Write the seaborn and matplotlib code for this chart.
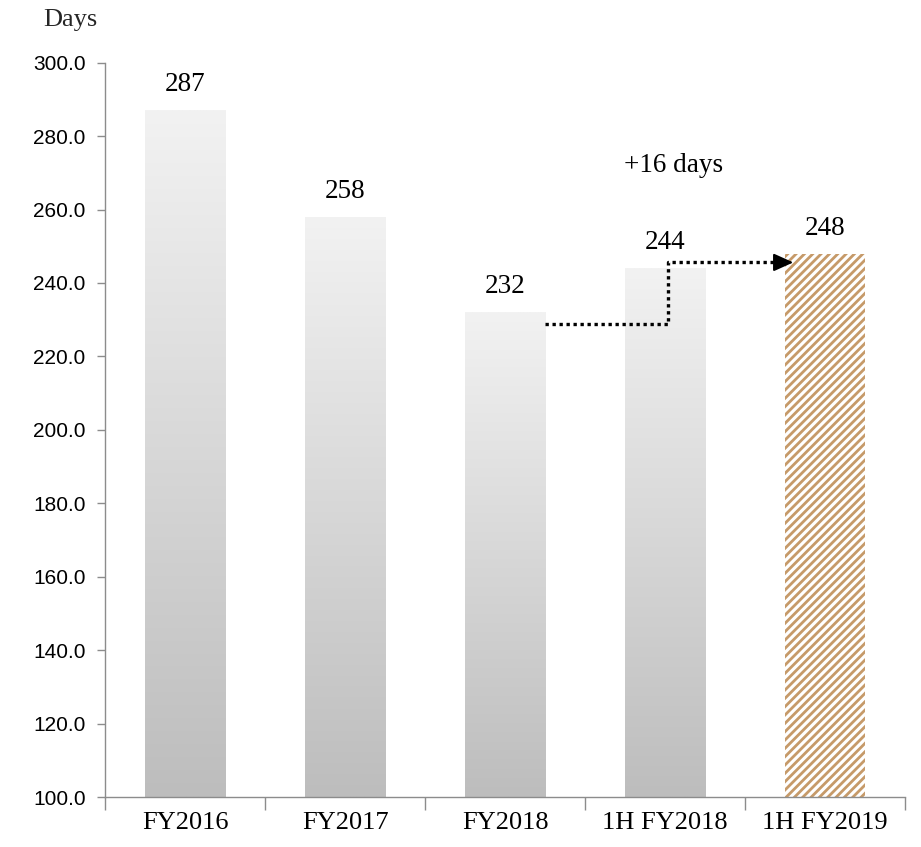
import numpy as np
import pandas as pd
import matplotlib
matplotlib.use("Agg")
import matplotlib.pyplot as plt
import seaborn as sns

categories = ["FY2016", "FY2017", "FY2018", "1H FY2018", "1H FY2019"]
days = [287, 258, 232, 244, 248]
y_ticks = [100, 120, 140, 160, 180, 200, 220, 240, 260, 280, 300]
change_label = "+16 days"

sns.set_theme(style="white")
plt.rcParams["hatch.linewidth"] = 2.0

df = pd.DataFrame({"period": categories, "days": days})

fig = plt.figure(figsize=(9.21, 8.47), dpi=100)
ax = fig.add_axes([0.114, 0.059, 0.869, 0.867])

sns.barplot(data=df, x="period", y="days", color="#d9d9d9", width=0.5,
            saturation=1, ax=ax, zorder=2)

ax.set_ylim(100, 300)
ax.set_xlim(-0.5, len(categories) - 0.5)

# vertical gradient inside the grey bars, hatch on the last one
grad = np.linspace(0, 1, 256).reshape(-1, 1)
cmap = matplotlib.colors.LinearSegmentedColormap.from_list("g", ["#bdbdbd", "#f2f2f2"])
patches = list(ax.patches)
for i, p in enumerate(patches):
    x0, w = p.get_x(), p.get_width()
    h = p.get_height()
    if i == len(patches) - 1:
        p.set_facecolor("white")
        p.set_edgecolor("#c69a69")
        p.set_hatch("////")
        p.set_linewidth(0)
        continue
    p.set_facecolor("none")
    p.set_linewidth(0)
    im = ax.imshow(grad, cmap=cmap, aspect="auto", origin="lower",
                   extent=[x0, x0 + w, 100, h], zorder=1.5)
    im.set_clip_path(p)

ax.set_xlim(-0.5, len(categories) - 0.5)
ax.set_ylim(100, 300)

serif = ["Liberation Serif", "DejaVu Serif"]
for i, v in enumerate(days):
    ax.text(i, v + 5.2, f"{v}", ha="center", va="baseline", fontsize=19.5,
            family=serif, color="black")

# step arrow showing the change between half-years
bw = 0.25
ax.plot([2 + bw, 3.02, 3.02, 3.72], [228.8, 228.8, 245.6, 245.6], color="black",
        linestyle=(0, (1, 1.1)), linewidth=2.4, zorder=4)
ax.annotate("", xy=(4 - bw + 0.05, 245.6), xytext=(3.70, 245.6),
            arrowprops=dict(arrowstyle="-|>,head_length=1.0,head_width=0.45",
                            color="black", linewidth=1.5,
                            shrinkA=0, shrinkB=0), zorder=4)
ax.text(3.05, 270.3, change_label, ha="center", va="baseline", fontsize=19.5,
        family=serif, color="black")

fig.text(70 / 921, 1 - 20 / 847, "Days", ha="center", va="center",
         fontsize=19, family=serif)

ax.set_yticks(y_ticks)
ax.set_yticklabels([f"{t:.1f}" for t in y_ticks], fontsize=15,
                   family=["Liberation Sans", "DejaVu Sans"], color="black")
ax.set_xticks(range(len(categories)))
ax.set_xticklabels(categories, fontsize=19, family=serif, color="black")
ax.set_xticks(np.arange(-0.5, len(categories), 1.0), minor=True)
ax.tick_params(axis="x", which="major", length=0, pad=11)
ax.tick_params(axis="x", which="minor", length=9, width=1, color="#8c8c8c",
               direction="out", bottom=True)
ax.tick_params(axis="y", length=6, width=1, color="#8c8c8c", direction="out",
               left=True, pad=8)
ax.set_xlabel("")
ax.set_ylabel("")

for side in ["top", "right"]:
    ax.spines[side].set_visible(False)
for side in ["left", "bottom"]:
    ax.spines[side].set_color("#8c8c8c")
    ax.spines[side].set_linewidth(1)

fig.savefig("out.png", dpi=100)
